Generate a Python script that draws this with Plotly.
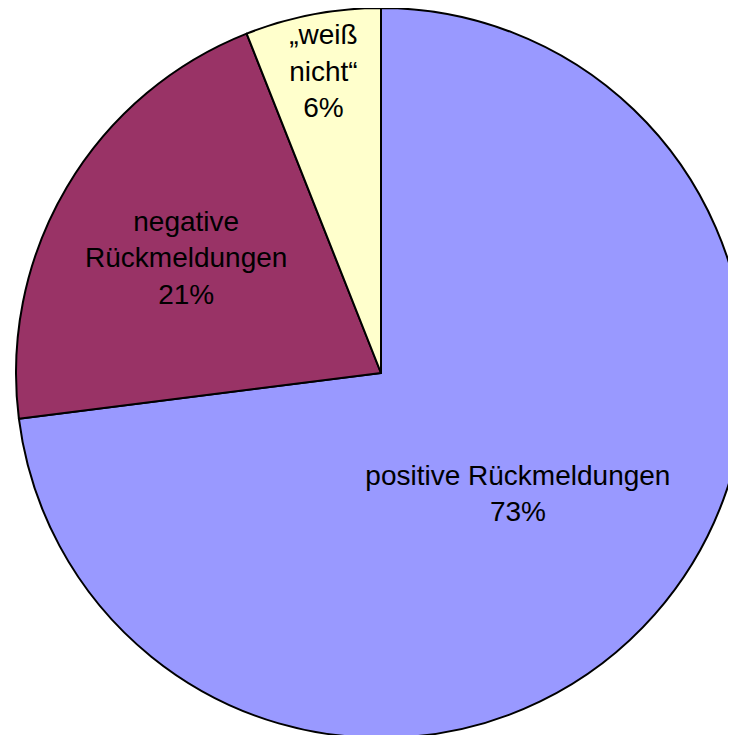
import plotly.graph_objects as go

# slices in drawing order (clockwise from 12 o'clock)
labels = ["positive Rückmeldungen", "negative<br>Rückmeldungen", "„weiß<br>nicht“"]
values = [73, 21, 6]
colors = ["#9999FF", "#993366", "#FFFFCC"]

fig = go.Figure(
    go.Pie(
        labels=labels,
        values=values,
        sort=False,
        direction="clockwise",
        rotation=0,
        marker={"colors": colors, "line": {"color": "black", "width": 2}},
        texttemplate="%{label}<br>%{percent:.0%}",
        textposition="inside",
        insidetextorientation="horizontal",
        textfont={"family": "Liberation Sans, Arial, sans-serif", "size": 28, "color": "black"},
        hoverinfo="label+percent",
        showlegend=False,
        domain={"x": [8 / 740, 738 / 740], "y": [0, 1]},
    )
)
fig.update_layout(
    width=740,
    height=730,
    margin={"l": 0, "r": 0, "t": 0, "b": 0},
    paper_bgcolor="white",
    uniformtext={"minsize": 28, "mode": "show"},
)
fig.write_html("out.html")
